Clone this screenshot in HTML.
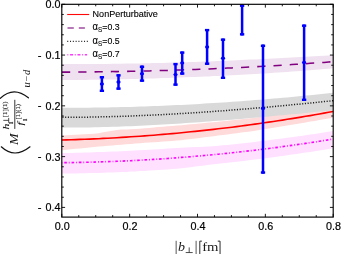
<!DOCTYPE html>
<html><head><meta charset="utf-8"><title>plot</title>
<style>
html,body{margin:0;padding:0;background:#fff;}
body{width:341px;height:254px;overflow:hidden;font-family:"Liberation Sans",sans-serif;}
svg{display:block;font-family:"Liberation Sans",sans-serif;will-change:transform;filter:grayscale(0);}
</style></head><body>
<svg width="341" height="254" viewBox="0 0 341 254">
<defs><clipPath id="clip"><rect x="61.8" y="4.3" width="271.4" height="212.79999999999998"/></clipPath></defs>
<rect width="341" height="254" fill="#fff"/>
<path d="M61.8,135.4 L66.4,135.2 L71.0,135.0 L75.6,134.7 L80.2,134.5 L84.8,134.3 L89.4,134.1 L94.0,133.8 L98.6,133.2 L103.2,132.3 L107.8,131.5 L112.4,130.8 L117.0,130.1 L121.6,129.6 L126.2,129.5 L130.8,129.3 L135.4,129.1 L140.0,128.7 L144.6,128.3 L149.2,127.9 L153.8,127.5 L158.4,127.1 L163.0,126.7 L167.6,126.3 L172.2,126.0 L176.8,125.6 L181.4,125.2 L186.0,124.7 L190.6,124.3 L195.2,123.9 L199.8,123.5 L204.4,123.0 L209.0,122.6 L213.6,122.2 L218.2,121.8 L222.8,121.3 L227.4,120.8 L232.0,120.3 L236.6,119.8 L241.2,119.2 L245.8,118.7 L250.4,118.2 L255.0,117.7 L259.6,117.0 L264.2,116.4 L268.8,115.7 L273.4,115.0 L278.0,114.3 L282.6,113.7 L287.2,113.0 L291.8,112.3 L296.4,111.7 L301.0,111.0 L305.6,110.3 L310.2,109.6 L314.8,109.0 L319.4,108.3 L324.0,107.6 L328.6,106.9 L333.2,106.3 L333.2,117.8 L328.6,118.5 L324.0,119.3 L319.4,120.1 L314.8,120.9 L310.2,121.6 L305.6,122.4 L301.0,123.2 L296.4,124.0 L291.8,124.7 L287.2,125.5 L282.6,126.2 L278.0,127.0 L273.4,127.8 L268.8,128.5 L264.2,129.3 L259.6,130.0 L255.0,130.8 L250.4,131.4 L245.8,132.0 L241.2,132.6 L236.6,133.2 L232.0,133.8 L227.4,134.4 L222.8,135.0 L218.2,135.6 L213.6,136.2 L209.0,136.8 L204.4,137.3 L199.8,137.9 L195.2,138.5 L190.6,139.1 L186.0,139.6 L181.4,140.2 L176.8,140.6 L172.2,140.9 L167.6,141.3 L163.0,141.6 L158.4,141.9 L153.8,142.2 L149.2,142.5 L144.6,142.8 L140.0,143.2 L135.4,143.5 L130.8,143.9 L126.2,144.3 L121.6,144.7 L117.0,145.1 L112.4,145.4 L107.8,145.8 L103.2,146.2 L98.6,146.6 L94.0,147.0 L89.4,147.5 L84.8,147.9 L80.2,148.4 L75.6,148.8 L71.0,149.3 L66.4,149.8 L61.8,150.2Z" fill="#ffdada"/>
<path d="M61.8,64.1 L66.4,64.1 L71.0,64.1 L75.6,64.1 L80.2,64.1 L84.8,64.1 L89.4,64.0 L94.0,64.0 L98.6,64.0 L103.2,63.9 L107.8,63.9 L112.4,63.8 L117.0,63.8 L121.6,63.7 L126.2,63.6 L130.8,63.6 L135.4,63.5 L140.0,63.4 L144.6,63.3 L149.2,63.2 L153.8,63.1 L158.4,63.0 L163.0,62.9 L167.6,62.8 L172.2,62.6 L176.8,62.5 L181.4,62.4 L186.0,62.2 L190.6,62.1 L195.2,61.9 L199.8,61.8 L204.4,61.6 L209.0,61.4 L213.6,61.2 L218.2,61.1 L222.8,60.9 L227.4,60.7 L232.0,60.5 L236.6,60.2 L241.2,60.0 L245.8,59.8 L250.4,59.6 L255.0,59.4 L259.6,59.2 L264.2,58.9 L268.8,58.7 L273.4,58.5 L278.0,58.3 L282.6,58.0 L287.2,57.8 L291.8,57.6 L296.4,57.3 L301.0,57.1 L305.6,56.8 L310.2,56.5 L314.8,56.3 L319.4,56.0 L324.0,55.7 L328.6,55.4 L333.2,55.1 L333.2,68.3 L328.6,68.7 L324.0,69.1 L319.4,69.4 L314.8,69.8 L310.2,70.2 L305.6,70.5 L301.0,70.9 L296.4,71.2 L291.8,71.6 L287.2,71.9 L282.6,72.2 L278.0,72.5 L273.4,72.8 L268.8,73.2 L264.2,73.5 L259.6,73.8 L255.0,74.1 L250.4,74.3 L245.8,74.6 L241.2,74.8 L236.6,75.0 L232.0,75.3 L227.4,75.5 L222.8,75.7 L218.2,75.9 L213.6,76.1 L209.0,76.4 L204.4,76.6 L199.8,76.7 L195.2,76.9 L190.6,77.1 L186.0,77.3 L181.4,77.5 L176.8,77.6 L172.2,77.8 L167.6,78.0 L163.0,78.1 L158.4,78.3 L153.8,78.4 L149.2,78.6 L144.6,78.7 L140.0,78.8 L135.4,78.9 L130.8,79.1 L126.2,79.2 L121.6,79.3 L117.0,79.4 L112.4,79.5 L107.8,79.5 L103.2,79.6 L98.6,79.7 L94.0,79.8 L89.4,79.8 L84.8,79.9 L80.2,79.9 L75.6,80.0 L71.0,80.0 L66.4,80.1 L61.8,80.1Z" fill="#efe1ef"/>
<path d="M61.8,107.8 L66.4,107.8 L71.0,107.8 L75.6,107.8 L80.2,107.7 L84.8,107.7 L89.4,107.7 L94.0,107.6 L98.6,107.6 L103.2,107.5 L107.8,107.4 L112.4,107.3 L117.0,107.2 L121.6,107.1 L126.2,107.0 L130.8,106.9 L135.4,106.7 L140.0,106.6 L144.6,106.4 L149.2,106.3 L153.8,106.1 L158.4,105.9 L163.0,105.7 L167.6,105.5 L172.2,105.3 L176.8,105.1 L181.4,104.9 L186.0,104.7 L190.6,104.4 L195.2,104.2 L199.8,103.9 L204.4,103.6 L209.0,103.3 L213.6,103.1 L218.2,102.8 L222.8,102.5 L227.4,102.2 L232.0,101.8 L236.6,101.5 L241.2,101.2 L245.8,100.8 L250.4,100.5 L255.0,100.1 L259.6,99.7 L264.2,99.4 L268.8,99.0 L273.4,98.6 L278.0,98.2 L282.6,97.8 L287.2,97.4 L291.8,97.0 L296.4,96.5 L301.0,96.1 L305.6,95.6 L310.2,95.2 L314.8,94.7 L319.4,94.3 L324.0,93.8 L328.6,93.3 L333.2,92.8 L333.2,110.3 L328.6,110.7 L324.0,111.2 L319.4,111.6 L314.8,112.1 L310.2,112.5 L305.6,113.0 L301.0,113.4 L296.4,113.9 L291.8,114.3 L287.2,114.8 L282.6,115.2 L278.0,115.6 L273.4,116.0 L268.8,116.5 L264.2,116.9 L259.6,117.3 L255.0,117.7 L250.4,118.1 L245.8,118.5 L241.2,118.9 L236.6,119.3 L232.0,119.7 L227.4,120.1 L222.8,120.4 L218.2,120.8 L213.6,121.1 L209.0,121.5 L204.4,121.8 L199.8,122.2 L195.2,122.5 L190.6,122.8 L186.0,123.1 L181.4,123.4 L176.8,123.7 L172.2,124.0 L167.6,124.3 L163.0,124.6 L158.4,124.8 L153.8,125.1 L149.2,125.3 L144.6,125.5 L140.0,125.7 L135.4,126.0 L130.8,126.2 L126.2,126.3 L121.6,126.5 L117.0,126.7 L112.4,126.8 L107.8,127.0 L103.2,127.1 L98.6,127.2 L94.0,127.3 L89.4,127.4 L84.8,127.5 L80.2,127.5 L75.6,127.6 L71.0,127.6 L66.4,127.6 L61.8,127.7Z" fill="#d9d9d9"/>
<path d="M61.8,153.0 L66.4,152.9 L71.0,152.9 L75.6,152.8 L80.2,152.7 L84.8,152.5 L89.4,152.4 L94.0,152.3 L98.6,152.1 L103.2,152.0 L107.8,151.8 L112.4,151.6 L117.0,151.4 L121.6,151.2 L126.2,151.0 L130.8,150.8 L135.4,150.6 L140.0,150.3 L144.6,150.1 L149.2,149.8 L153.8,149.5 L158.4,149.2 L163.0,149.0 L167.6,148.6 L172.2,148.3 L176.8,148.0 L181.4,147.7 L186.0,147.5 L190.6,147.3 L195.2,147.1 L199.8,146.9 L204.4,146.7 L209.0,146.4 L213.6,146.2 L218.2,145.8 L222.8,145.3 L227.4,144.9 L232.0,144.4 L236.6,143.9 L241.2,143.4 L245.8,142.9 L250.4,142.4 L255.0,141.9 L259.6,141.3 L264.2,140.8 L268.8,140.2 L273.4,139.6 L278.0,139.0 L282.6,138.4 L287.2,137.8 L291.8,137.2 L296.4,136.6 L301.0,135.9 L305.6,135.3 L310.2,134.6 L314.8,133.9 L319.4,133.2 L324.0,132.5 L328.6,131.8 L333.2,131.1 L333.2,148.2 L328.6,148.9 L324.0,149.7 L319.4,150.4 L314.8,151.2 L310.2,151.9 L305.6,152.6 L301.0,153.3 L296.4,154.0 L291.8,154.6 L287.2,155.3 L282.6,155.9 L278.0,156.6 L273.4,157.2 L268.8,157.8 L264.2,158.4 L259.6,159.0 L255.0,159.6 L250.4,160.1 L245.8,160.7 L241.2,161.2 L236.6,161.7 L232.0,162.2 L227.4,162.7 L222.8,163.2 L218.2,163.7 L213.6,164.2 L209.0,164.8 L204.4,165.4 L199.8,166.0 L195.2,166.6 L190.6,167.2 L186.0,167.7 L181.4,168.3 L176.8,168.7 L172.2,169.0 L167.6,169.4 L163.0,169.7 L158.4,170.0 L153.8,170.3 L149.2,170.6 L144.6,170.9 L140.0,171.1 L135.4,171.4 L130.8,171.6 L126.2,171.9 L121.6,172.1 L117.0,172.3 L112.4,172.4 L107.8,172.6 L103.2,172.7 L98.6,172.9 L94.0,173.0 L89.4,173.1 L84.8,173.2 L80.2,173.3 L75.6,173.4 L71.0,173.4 L66.4,173.5 L61.8,173.5Z" fill="#ffe0ff"/>
<path d="M61.8,72.1 L66.4,72.1 L71.0,72.1 L75.6,72.0 L80.2,72.0 L84.8,72.0 L89.4,71.9 L94.0,71.9 L98.6,71.8 L103.2,71.8 L107.8,71.7 L112.4,71.6 L117.0,71.6 L121.6,71.5 L126.2,71.4 L130.8,71.3 L135.4,71.2 L140.0,71.1 L144.6,71.0 L149.2,70.9 L153.8,70.8 L158.4,70.6 L163.0,70.5 L167.6,70.4 L172.2,70.2 L176.8,70.1 L181.4,69.9 L186.0,69.8 L190.6,69.6 L195.2,69.4 L199.8,69.3 L204.4,69.1 L209.0,68.9 L213.6,68.7 L218.2,68.5 L222.8,68.3 L227.4,68.1 L232.0,67.9 L236.6,67.6 L241.2,67.4 L245.8,67.2 L250.4,66.9 L255.0,66.7 L259.6,66.5 L264.2,66.2 L268.8,65.9 L273.4,65.7 L278.0,65.4 L282.6,65.1 L287.2,64.8 L291.8,64.6 L296.4,64.3 L301.0,64.0 L305.6,63.7 L310.2,63.3 L314.8,63.0 L319.4,62.7 L324.0,62.4 L328.6,62.0 L333.2,61.7" fill="none" stroke="#800080" stroke-width="1.55" stroke-dasharray="8.2 8.08" stroke-dashoffset="-0.2"/>
<path d="M61.8,117.3 L66.4,117.3 L71.0,117.3 L75.6,117.3 L80.2,117.2 L84.8,117.2 L89.4,117.1 L94.0,117.0 L98.6,116.9 L103.2,116.8 L107.8,116.7 L112.4,116.6 L117.0,116.5 L121.6,116.3 L126.2,116.2 L130.8,116.0 L135.4,115.8 L140.0,115.6 L144.6,115.4 L149.2,115.2 L153.8,115.0 L158.4,114.8 L163.0,114.6 L167.6,114.3 L172.2,114.1 L176.8,113.8 L181.4,113.5 L186.0,113.3 L190.6,113.0 L195.2,112.7 L199.8,112.4 L204.4,112.1 L209.0,111.8 L213.6,111.4 L218.2,111.1 L222.8,110.8 L227.4,110.4 L232.0,110.0 L236.6,109.7 L241.2,109.3 L245.8,108.9 L250.4,108.6 L255.0,108.2 L259.6,107.8 L264.2,107.4 L268.8,107.0 L273.4,106.6 L278.0,106.1 L282.6,105.7 L287.2,105.3 L291.8,104.8 L296.4,104.4 L301.0,104.0 L305.6,103.5 L310.2,103.0 L314.8,102.6 L319.4,102.1 L324.0,101.6 L328.6,101.2 L333.2,100.7" fill="none" stroke="#1c1c1c" stroke-width="1.5" stroke-dasharray="1.1 1.63" stroke-dashoffset="-0.6"/>
<path d="M61.8,140.0 L66.4,139.9 L71.0,139.7 L75.6,139.6 L80.2,139.4 L84.8,139.3 L89.4,139.1 L94.0,138.9 L98.6,138.7 L103.2,138.4 L107.8,138.2 L112.4,138.0 L117.0,137.7 L121.6,137.4 L126.2,137.1 L130.8,136.8 L135.4,136.5 L140.0,136.2 L144.6,135.9 L149.2,135.5 L153.8,135.2 L158.4,134.8 L163.0,134.4 L167.6,134.0 L172.2,133.6 L176.8,133.2 L181.4,132.7 L186.0,132.3 L190.6,131.8 L195.2,131.4 L199.8,130.9 L204.4,130.4 L209.0,129.9 L213.6,129.4 L218.2,128.8 L222.8,128.3 L227.4,127.7 L232.0,127.2 L236.6,126.6 L241.2,126.0 L245.8,125.4 L250.4,124.7 L255.0,124.1 L259.6,123.5 L264.2,122.8 L268.8,122.1 L273.4,121.5 L278.0,120.8 L282.6,120.1 L287.2,119.3 L291.8,118.6 L296.4,117.9 L301.0,117.1 L305.6,116.3 L310.2,115.6 L314.8,114.8 L319.4,114.0 L324.0,113.1 L328.6,112.3 L333.2,111.5" fill="none" stroke="#ff0000" stroke-width="1.6"/>
<path d="M61.8,162.7 L66.4,162.6 L71.0,162.6 L75.6,162.5 L80.2,162.4 L84.8,162.3 L89.4,162.2 L94.0,162.1 L98.6,161.9 L103.2,161.8 L107.8,161.6 L112.4,161.5 L117.0,161.3 L121.6,161.1 L126.2,160.9 L130.8,160.7 L135.4,160.4 L140.0,160.2 L144.6,159.9 L149.2,159.7 L153.8,159.4 L158.4,159.1 L163.0,158.8 L167.6,158.5 L172.2,158.1 L176.8,157.8 L181.4,157.4 L186.0,157.1 L190.6,156.7 L195.2,156.3 L199.8,155.9 L204.4,155.5 L209.0,155.1 L213.6,154.6 L218.2,154.2 L222.8,153.7 L227.4,153.3 L232.0,152.8 L236.6,152.3 L241.2,151.8 L245.8,151.2 L250.4,150.7 L255.0,150.2 L259.6,149.6 L264.2,149.0 L268.8,148.5 L273.4,147.9 L278.0,147.3 L282.6,146.6 L287.2,146.0 L291.8,145.4 L296.4,144.7 L301.0,144.1 L305.6,143.4 L310.2,142.7 L314.8,142.0 L319.4,141.3 L324.0,140.5 L328.6,139.8 L333.2,139.1" fill="none" stroke="#ff00ff" stroke-width="1.65" stroke-dasharray="2.6 1.95 0.8 1.95" stroke-dashoffset="4.85"/>
<g fill="#0000ff" clip-path="url(#clip)"><line x1="101.9" y1="76.05" x2="101.9" y2="92.0" stroke="#0000ff" stroke-width="2.5"/><rect x="99.75" y="76.05" width="4.3" height="2.4"/><rect x="99.75" y="89.60" width="4.3" height="2.4"/><ellipse cx="101.9" cy="84.0" rx="2.1" ry="1.7"/><line x1="118.5" y1="74.15" x2="118.5" y2="89.8" stroke="#0000ff" stroke-width="2.5"/><rect x="116.35" y="74.15" width="4.3" height="2.4"/><rect x="116.35" y="87.40" width="4.3" height="2.4"/><ellipse cx="118.5" cy="82.0" rx="2.1" ry="1.7"/><line x1="142.0" y1="65.6" x2="142.0" y2="81.8" stroke="#0000ff" stroke-width="2.5"/><rect x="139.85" y="65.6" width="4.3" height="2.4"/><rect x="139.85" y="79.40" width="4.3" height="2.4"/><ellipse cx="142.0" cy="73.7" rx="2.1" ry="1.7"/><line x1="175.5" y1="62.9" x2="175.5" y2="85.8" stroke="#0000ff" stroke-width="2.5"/><rect x="173.35" y="62.9" width="4.3" height="2.4"/><rect x="173.35" y="83.40" width="4.3" height="2.4"/><ellipse cx="175.5" cy="74.6" rx="2.1" ry="1.7"/><line x1="182.2" y1="51.4" x2="182.2" y2="74.7" stroke="#0000ff" stroke-width="2.5"/><rect x="180.05" y="51.4" width="4.3" height="2.4"/><rect x="180.05" y="72.30" width="4.3" height="2.4"/><ellipse cx="182.2" cy="62.9" rx="2.1" ry="1.7"/><line x1="207.1" y1="28.9" x2="207.1" y2="64.9" stroke="#0000ff" stroke-width="2.5"/><rect x="204.95" y="28.9" width="4.3" height="2.4"/><rect x="204.95" y="62.50" width="4.3" height="2.4"/><ellipse cx="207.1" cy="47.0" rx="2.1" ry="1.7"/><line x1="223.0" y1="38.5" x2="223.0" y2="79.0" stroke="#0000ff" stroke-width="2.5"/><rect x="220.85" y="38.5" width="4.3" height="2.4"/><rect x="220.85" y="76.60" width="4.3" height="2.4"/><ellipse cx="223.0" cy="58.3" rx="2.1" ry="1.7"/><line x1="242.1" y1="4.5" x2="242.1" y2="35.5" stroke="#0000ff" stroke-width="2.5"/><rect x="239.95" y="4.5" width="4.3" height="2.4"/><rect x="239.95" y="33.10" width="4.3" height="2.4"/><ellipse cx="242.1" cy="-20" rx="2.1" ry="1.7"/><line x1="263.0" y1="44.6" x2="263.0" y2="173.7" stroke="#0000ff" stroke-width="2.5"/><rect x="260.85" y="44.6" width="4.3" height="2.4"/><rect x="260.85" y="171.30" width="4.3" height="2.4"/><ellipse cx="263.0" cy="108.4" rx="2.1" ry="1.7"/><line x1="304.1" y1="24.5" x2="304.1" y2="101.0" stroke="#0000ff" stroke-width="2.5"/><rect x="301.95" y="24.5" width="4.3" height="2.4"/><rect x="301.95" y="98.60" width="4.3" height="2.4"/><ellipse cx="304.1" cy="62.5" rx="2.1" ry="1.7"/></g>
<rect x="61.8" y="4.3" width="271.4" height="212.79999999999998" fill="none" stroke="#000" stroke-width="1.15"/><path d="M61.80,217.1 v-3.3 M61.80,4.3 v3.3 M78.76,217.1 v-2.0 M78.76,4.3 v2.0 M95.72,217.1 v-2.0 M95.72,4.3 v2.0 M112.69,217.1 v-2.0 M112.69,4.3 v2.0 M129.65,217.1 v-3.3 M129.65,4.3 v3.3 M146.61,217.1 v-2.0 M146.61,4.3 v2.0 M163.57,217.1 v-2.0 M163.57,4.3 v2.0 M180.54,217.1 v-2.0 M180.54,4.3 v2.0 M197.50,217.1 v-3.3 M197.50,4.3 v3.3 M214.46,217.1 v-2.0 M214.46,4.3 v2.0 M231.42,217.1 v-2.0 M231.42,4.3 v2.0 M248.39,217.1 v-2.0 M248.39,4.3 v2.0 M265.35,217.1 v-3.3 M265.35,4.3 v3.3 M282.31,217.1 v-2.0 M282.31,4.3 v2.0 M299.27,217.1 v-2.0 M299.27,4.3 v2.0 M316.24,217.1 v-2.0 M316.24,4.3 v2.0 M333.20,217.1 v-3.3 M333.20,4.3 v3.3 M61.8,4.30 h3.3 M333.2,4.30 h-3.3 M61.8,14.45 h2.0 M333.2,14.45 h-2.0 M61.8,24.61 h2.0 M333.2,24.61 h-2.0 M61.8,34.76 h2.0 M333.2,34.76 h-2.0 M61.8,44.92 h2.0 M333.2,44.92 h-2.0 M61.8,55.07 h3.3 M333.2,55.07 h-3.3 M61.8,65.23 h2.0 M333.2,65.23 h-2.0 M61.8,75.38 h2.0 M333.2,75.38 h-2.0 M61.8,85.54 h2.0 M333.2,85.54 h-2.0 M61.8,95.69 h2.0 M333.2,95.69 h-2.0 M61.8,105.85 h3.3 M333.2,105.85 h-3.3 M61.8,116.00 h2.0 M333.2,116.00 h-2.0 M61.8,126.16 h2.0 M333.2,126.16 h-2.0 M61.8,136.31 h2.0 M333.2,136.31 h-2.0 M61.8,146.47 h2.0 M333.2,146.47 h-2.0 M61.8,156.62 h3.3 M333.2,156.62 h-3.3 M61.8,166.78 h2.0 M333.2,166.78 h-2.0 M61.8,176.94 h2.0 M333.2,176.94 h-2.0 M61.8,187.09 h2.0 M333.2,187.09 h-2.0 M61.8,197.25 h2.0 M333.2,197.25 h-2.0 M61.8,207.40 h3.3 M333.2,207.40 h-3.3" stroke="#000" stroke-width="0.9" fill="none"/>
<g font-size="11.2" fill="#000" stroke="#000" stroke-width="0.2"><text x="54.7" y="230.25" textLength="15.0" lengthAdjust="spacingAndGlyphs">0.0</text><text x="122.5" y="230.25" textLength="15.0" lengthAdjust="spacingAndGlyphs">0.2</text><text x="190.4" y="230.25" textLength="15.0" lengthAdjust="spacingAndGlyphs">0.4</text><text x="258.2" y="230.25" textLength="15.0" lengthAdjust="spacingAndGlyphs">0.6</text><text x="326.1" y="230.25" textLength="15.0" lengthAdjust="spacingAndGlyphs">0.8</text><text x="45.6" y="8.3" textLength="15.0" lengthAdjust="spacingAndGlyphs">0.0</text><text x="45.6" y="59.1" textLength="15.0" lengthAdjust="spacingAndGlyphs">0.1</text><text x="41.6" y="58.6" text-anchor="end">-</text><text x="45.6" y="109.8" textLength="15.0" lengthAdjust="spacingAndGlyphs">0.2</text><text x="41.6" y="109.3" text-anchor="end">-</text><text x="45.6" y="160.6" textLength="15.0" lengthAdjust="spacingAndGlyphs">0.3</text><text x="41.6" y="160.1" text-anchor="end">-</text><text x="45.6" y="211.4" textLength="15.0" lengthAdjust="spacingAndGlyphs">0.4</text><text x="41.6" y="210.9" text-anchor="end">-</text></g>
<line x1="67.2" y1="14.5" x2="89.2" y2="14.5" stroke="#ff0808" stroke-width="1.1"/><path d="M67.5,28 H73.8 M78.8,28 H84.9" stroke="#a04ca0" stroke-width="1.5" fill="none"/><line x1="67.2" y1="41.4" x2="88.0" y2="41.4" stroke="#2a2a2a" stroke-width="1.1" stroke-dasharray="1.05 1.75"/><line x1="67.4" y1="54.8" x2="87.1" y2="54.8" stroke="#ff38ff" stroke-width="1.5" stroke-dasharray="0.9 1.75 3 1.75"/><g font-size="9.7" fill="#000" stroke="#000" stroke-width="0.12"><text x="92.6" y="17.0" textLength="65.3" lengthAdjust="spacingAndGlyphs">NonPerturbative</text><text x="92.6" y="30.3" textLength="27.0" lengthAdjust="spacingAndGlyphs"><tspan font-size="10.4">α</tspan><tspan font-size="7" dy="2.0" stroke-width="0.08">S</tspan><tspan dy="-2.0">=0.3</tspan></text><text x="92.6" y="43.6" textLength="27.0" lengthAdjust="spacingAndGlyphs"><tspan font-size="10.4">α</tspan><tspan font-size="7" dy="2.0" stroke-width="0.08">S</tspan><tspan dy="-2.0">=0.5</tspan></text><text x="92.6" y="57.0" textLength="27.0" lengthAdjust="spacingAndGlyphs"><tspan font-size="10.4">α</tspan><tspan font-size="7" dy="2.0" stroke-width="0.08">S</tspan><tspan dy="-2.0">=0.7</tspan></text></g>
<g fill="none" stroke="#222" stroke-width="0.85">
<path d="M176.15,240.8 V254 M196.1,240.8 V254" stroke-width="0.75"/>
<path d="M185.7,252.55 H192.7 M189.2,247.4 V252.55" stroke-width="0.8"/>
<path d="M201.9,241.15 H199.8 V254" stroke-width="0.95"/>
<path d="M217.8,241.15 H220.05 V254" stroke-width="0.95"/>
</g>
<g style="font-family:'Liberation Serif',serif" font-size="14" fill="#1a1a1a">
<text x="178.0" y="250.9" font-style="italic" font-size="13.2" textLength="7" lengthAdjust="spacingAndGlyphs">b</text>
<text x="202.2" y="250.9" font-size="13.4" textLength="16.3" lengthAdjust="spacingAndGlyphs">fm</text>
</g>

<g fill="none" stroke="#111" stroke-width="1.2" stroke-linecap="round">
<path d="M0.3,98.3 Q13.6,85.5 28.4,97.8"/>
<path d="M1.3,146.8 Q14.5,159.2 30,146.8"/>
<line x1="14.8" y1="99.8" x2="14.8" y2="128.9" stroke-width="0.85" stroke-linecap="butt"/>
<path d="M8.7,117.9 V122.8 M8.7,120.35 H3.3" stroke-width="0.75" stroke-linecap="butt"/>
</g>
<g style="font-family:'Liberation Serif',serif" fill="#111" stroke="#111" stroke-width="0.12">
<text transform="translate(18.1,145) rotate(-90)" font-size="12.8" font-style="italic" stroke="none" textLength="11.6" lengthAdjust="spacingAndGlyphs">M</text>
<text transform="translate(9.3,129.6) rotate(-90) scale(1.35,1)" font-size="8.6" font-style="italic">h</text>
<text transform="translate(12.9,124.4) rotate(-90)" font-size="6.2">1</text>
<text transform="translate(7.3,117.2) rotate(-90)" font-size="7" textLength="15.8" lengthAdjust="spacingAndGlyphs">[1](1)</text>
<text transform="translate(23.2,125.2) rotate(-90) scale(1.3,1)" font-size="8.6" font-style="italic">f</text>
<text transform="translate(26.9,121.6) rotate(-90)" font-size="6.2">1</text>
<text transform="translate(20.4,119.5) rotate(-90)" font-size="7" textLength="15.6" lengthAdjust="spacingAndGlyphs">[1](1)</text>
<text transform="translate(29.9,87.5) rotate(-90)" font-size="9.5" font-style="italic" stroke="none" textLength="17.7" lengthAdjust="spacingAndGlyphs">u−d</text>
</g>

</svg>
</body></html>
